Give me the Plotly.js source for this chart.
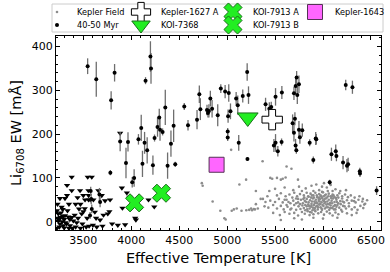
<!DOCTYPE html>
<html><head><meta charset="utf-8">
<script src="https://cdn.plot.ly/plotly-3.0.1.min.js"></script>
<style>html,body{margin:0;padding:0;background:#fff}#chart{width:390px;height:272px}</style>
</head><body><div id="chart"></div>
<script>
// Kepler field stars (Teff, Li EW)
const fieldTeff = [4736,4745,4849,4929,4971,4985,5042,5048,5070,5128,5100,5198,5150,5230,5260,5290,5320,5370,5450,5470,5520,5560,5580,5610,5620,5671,5739,6416,6430,6324,
5600,5690,5750,5820,5880,5930,5990,6040,6080,6130,6180,6240,5960,5900,5780,6010,6100,
5520,5560,5610,5650,5700,5730,5760,5800,5830,5850,5870,5900,5920,5940,5960,5980,6000,6020,6040,6060,6080,6100,6120,6150,6170,6200,6230,6260,6290,6330,6380,6050,5990,
5450,5500,5540,5580,5620,5660,5690,5720,5740,5770,5790,5810,5830,5850,5865,5880,5895,5910,5925,5940,5955,5970,5985,6000,6015,6030,6045,6060,6075,6090,6105,6120,6140,6160,6180,6200,6220,6250,6270,6300,6340,6370,6410,6440,6460,5960,5990,6010,
5430,5480,5520,5560,5590,5630,5670,5700,5720,5745,5765,5785,5800,5815,5830,5845,5860,5875,5890,5905,5915,5930,5945,5960,5975,5990,6005,6020,6035,6050,6065,6080,6095,6110,6130,6150,6170,6190,6210,6240,6270,6300,6330,6360,6390,6420,5880,5940,
5480,5550,5600,5650,5700,5740,5780,5810,5840,5860,5880,5900,5920,5950,5980,6010,6040,6070,6100,6130,6160,6200,6250,6300,6350,
5560,5700,5780,5900,6000,6150,
5279,5300,5350,5373,5400,5420,5200,5250,5390,5440,5500,5300,
5805,5825,5845,5855,5875,5885,5895,5905,5915,5935,5950,5965,5975,5995,6005,6025,6035,6055,6065,6085,6095,6110,6125,6135,6145,5795,5815,5835,5865,5885,5910,5930,5955,5970,5985,6015,6030,6050,6075,6095,6115,6140,6160,6185,6205,6225,5760,5740,5720,5680,5660,5640,5620,5600];
const fieldLi = [88,82,46,25,8,5,164,25,28,85,30,96,25,27,26,28,30,138,100,98,100,96,98,101,126,121,96,52,39,47,
78,72,80,76,82,85,80,78,84,74,70,72,72,70,70,88,70,
60,65,58,62,66,58,63,60,66,57,64,60,66,56,63,58,67,60,55,64,58,62,56,60,65,58,62,56,60,55,58,70,68,
48,45,52,44,50,42,48,53,44,50,42,47,52,44,49,41,53,46,50,42,47,52,44,49,42,53,46,50,43,48,53,45,50,42,47,53,44,49,42,48,44,50,46,41,49,55,54,47,
32,38,30,36,28,34,30,38,27,35,29,37,31,26,35,39,30,34,26,38,31,35,28,39,33,27,36,30,39,33,27,37,31,35,28,38,32,27,36,30,35,28,33,27,36,31,37,36,
20,15,22,18,20,14,22,18,24,15,21,17,24,19,22,16,23,19,14,21,17,23,19,15,20,
4,8,5,9,7,9,
29,40,52,52,45,58,26,30,35,70,75,70,
55,45,58,36,55,46,32,55,42,60,33,46,60,38,58,45,33,58,40,54,42,60,38,54,45,52,38,28,22,60,28,44,52,40,30,52,62,40,31,58,28,34,55,40,46,35,40,52,42,55,28,45,38,50];

// 40-50 Myr members with detections
const myrTeff = [3545,3635,3790,3826,3782,3884,3945,3966,4010,4030,4075,4104,4117,4139,4166,4149,4200,4206,4226,4243,4274,4292,4300,4327,4355,4379,4414,4442,4459,4553,4592,4686,4710,4721,4790,4800,4810,4825,4843,4902,4934,4979,5017,5010,5006,5006,5035,5094,5111,5121,5163,5209,5223,5212,5401,5440,5460,5505,5571,5488,5505,5529,5568,5697,5715,5725,5749,5732,5683,5707,5697,5714,5722,5749,5759,5784,5861,5899,5924,5930,6070,6088,6133,6140,6209,6250,6262,6384,6386,6237,6307,6559,3577,3582,3588,3570,3668,3675];
const myrLi = [355,325,277,340,112,183,134,182,90,100,188,214,132,180,163,322,377,350,129,191,216,238,210,205,261,128,178,219,131,263,220,233,291,257,255,248,253,281,258,243,304,297,294,241,206,192,252,281,266,180,287,342,289,143,268,258,262,285,295,174,180,161,182,293,310,329,314,289,225,235,203,174,163,210,193,209,180,141,190,188,90,154,161,150,135,128,131,115,110,312,307,71,70,52,29,14,62,45];
const myrErr = [18,40,21,20,6,22,35,22,12,20,12,30,30,25,30,8,35,35,22,8,22,20,25,8,40,30,30,37,6,8,12,22,20,25,12,10,15,18,20,25,10,15,20,15,8,8,18,15,22,18,15,20,20,4,15,15,12,20,15,15,20,12,8,15,20,15,20,20,20,15,20,15,8,20,15,15,8,8,15,12,6,15,15,12,15,15,15,8,8,12,15,10,10,12,10,8,15,12];

// 40-50 Myr upper limits
const limTeff = [3379,3546,3588,3330,3379,3256,3309,3330,3466,3500,3518,3553,3555,3555,3575,3605,3657,3692,3727,3779,3902,3908,3954,3981,3772,3633,3675,3500,3455,3483,3274,3285,3239,3309,3343,3379,3396,3431,3239,3256,3291,3326,3361,3262,3300,3280,4041,4048,4180,4240,3884,3420,3440,3350,3230,3225,3235,3250,3300,3350,3420,3470,3530,3560,3600,3700,3860,3936,3755,
3225,3245,3265,3290,3315,3335,3360,3385,3410,3445,3470,3490,3515,3540,3620,3640,3710,3800];
const limLi = [102,102,102,83,71,53,53,60,71,60,50,71,60,50,50,50,71,60,48,50,77,31,66,56,23,8,4,23,29,18,33,28,18,14,11,10,2,-2,2,-5,-9,-5,-9,10,5,0,8,4,50,34,202,40,55,40,40,25,8,-12,-14,-15,-12,-15,-12,-10,-8,-10,-8,-7,18,
-15,5,20,12,-2,25,5,-15,15,8,40,-5,30,8,22,-12,15,-5];

// Individual planet hosts
const k1627Teff = [5470], k1627Li = [233];
const k7368Teff = [5215], k7368Li = [238];
const k7913ATeff = [4315], k7913ALi = [65];
const k7913BTeff = [4035], k7913BLi = [43];
const k1643Teff = [4890], k1643Li = [130];

const green = '#22ee22', greenEdge = '#1a6e1a';
const traces = [
  {x: fieldTeff, y: fieldLi, type:'scatter', mode:'markers', name:'Kepler Field', legend:'legend',
   marker:{size:2.6, color:'#8c8c8c'}},
  {x: limTeff, y: limLi, type:'scatter', mode:'markers', name:'limits', showlegend:false,
   marker:{symbol:'triangle-down', size:5.5, color:'black'}},
  {x: myrTeff, y: myrLi, type:'scatter', mode:'markers', name:'40-50 Myr', legend:'legend2',
   marker:{size:4, color:'black'},
   error_y:{type:'data', array: myrErr, visible:true, color:'#6e6e6e', thickness:1.3, width:0}},
  {x: k1627Teff, y: k1627Li, type:'scatter', mode:'markers', name:'Kepler-1627 A', legend:'legend3',
   marker:{symbol:'cross', size:17, color:'white', line:{color:'black', width:1}}},
  {x: k7368Teff, y: k7368Li, type:'scatter', mode:'markers', name:'KOI-7368', legend:'legend4',
   marker:{symbol:'triangle-down', size:18, color:green, line:{color:greenEdge, width:1}}},
  {x: k7913ATeff, y: k7913ALi, type:'scatter', mode:'markers', name:'KOI-7913 A', legend:'legend5',
   marker:{symbol:'x', size:16, color:green, line:{color:greenEdge, width:1}}},
  {x: k7913BTeff, y: k7913BLi, type:'scatter', mode:'markers', name:'KOI-7913 B', legend:'legend6',
   marker:{symbol:'x', size:16, color:green, line:{color:greenEdge, width:1}}},
  {x: k1643Teff, y: k1643Li, type:'scatter', mode:'markers', name:'Kepler-1643', legend:'legend7',
   marker:{symbol:'square', size:15, color:'#ff66ff', line:{color:'#553355', width:1}}}
];

const L = 56, W = 325, B = 230, H = 194;
const px2x = p => (p - L) / W;
const px2y = p => (B - p) / H;
function leg(xpx, ypx){
  return {x: px2x(xpx), y: px2y(ypx), xanchor:'left', yanchor:'middle', bgcolor:'rgba(0,0,0,0)',
    borderwidth:0, font:{family:'DejaVu Sans', size:8.2, color:'black'}, itemsizing:'trace'};
}
const row1 = 12, row2 = 25;
const axisCommon = {
  showline:true, linecolor:'black', linewidth:1, mirror:'allticks', ticks:'inside', ticklen:4, tickwidth:1,
  tickcolor:'black', showgrid:false, zeroline:false,
  tickfont:{family:'DejaVu Sans', size:11, color:'black'}
};
const layout = {
  width:390, height:272,
  margin:{l:L, r:390-L-W, t:B-H, b:272-B, autoexpand:false},
  paper_bgcolor:'white', plot_bgcolor:'white',
  font:{family:'DejaVu Sans', color:'black'},
  showlegend:true,
  xaxis: Object.assign({}, axisCommon, {range:[3215,6605], tick0:3500, dtick:500,
    minor:{dtick:100, tick0:3200, ticks:'inside', ticklen:2, tickcolor:'black', showgrid:false},
    title:{text:'Effective Temperature [K]', font:{family:'DejaVu Sans', size:14.5}, standoff:6}}),
  yaxis: Object.assign({}, axisCommon, {range:[-19,424], tick0:0, dtick:100,
    minor:{dtick:20, tick0:0, ticks:'inside', ticklen:2, tickcolor:'black', showgrid:false},
    title:{text:'Li<sub>6708</sub> EW [mÅ]', font:{family:'DejaVu Sans', size:14.5}, standoff:6}}),
  legend: leg(37, row1),
  legend2: leg(37, row2),
  legend3: leg(121, row1),
  legend4: leg(121, row2),
  legend5: leg(213, row1),
  legend6: leg(213, row2),
  legend7: leg(295, row1),
  shapes:[{type:'rect', xref:'paper', yref:'paper', x0:px2x(52), x1:px2x(383), y0:px2y(32), y1:px2y(4),
    line:{color:'#cccccc', width:1}, fillcolor:'white', layer:'below'}]
};
Plotly.newPlot('chart', traces, layout, {staticPlot:true, displayModeBar:false});
</script></body></html>
